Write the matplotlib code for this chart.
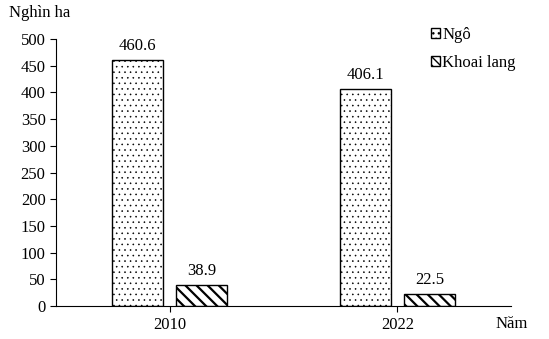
import numpy as np
import matplotlib.pyplot as plt
from matplotlib.patches import Patch

plt.rcParams["font.family"] = ["Liberation Serif", "DejaVu Serif"]

years = ["2010", "2022"]
ngo = [460.6, 406.1]
khoai_lang = [38.9, 22.5]

fig = plt.figure(figsize=(5.49, 3.39), dpi=100)
ax = fig.add_axes([0.102, 0.097, 0.829, 0.788])

x = np.arange(len(years))
w = 0.224
off = 0.141
fs = 12

with plt.rc_context({"hatch.linewidth": 0.4}):
    b1 = ax.bar(x - off, ngo, w, color="white", edgecolor="black", hatch="...", linewidth=1)
    h1 = Patch(facecolor="white", edgecolor="black", hatch="...", linewidth=1)
with plt.rc_context({"hatch.linewidth": 1.6}):
    b2 = ax.bar(x + off, khoai_lang, w, color="white", edgecolor="black", hatch="\\\\\\", linewidth=1)
with plt.rc_context({"hatch.linewidth": 1.2}):
    h2 = Patch(facecolor="white", edgecolor="black", hatch="\\\\\\\\", linewidth=1)

for bars, vals in [(b1, ngo), (b2, khoai_lang)]:
    for r, v in zip(bars, vals):
        ax.text(r.get_x() + r.get_width() / 2, v + 12, f"{v}", ha="center", va="bottom", fontsize=fs)

ax.set_xlim(-0.5, 1.5)
ax.set_ylim(0, 500)
ax.set_yticks(range(0, 501, 50))
ax.set_xticks(x)
ax.set_xticklabels(years)
ax.tick_params(labelsize=fs, direction="out", length=4, width=0.8)
ax.tick_params(axis="x", pad=4)
ax.spines["top"].set_visible(False)
ax.spines["right"].set_visible(False)

fig.text(0.016, 0.962, "Nghìn ha", fontsize=fs, va="center", ha="left")
fig.text(0.902, 0.043, "Năm", fontsize=fs, va="center", ha="left")

ax.legend([h1, h2], ["Ngô", "Khoai lang"], loc="upper left", bbox_to_anchor=(0.79, 1.1),
          frameon=False, fontsize=fs, handlelength=0.55, handleheight=0.55,
          handletextpad=0.15, labelspacing=0.7)

fig.savefig("out.png", dpi=100)
